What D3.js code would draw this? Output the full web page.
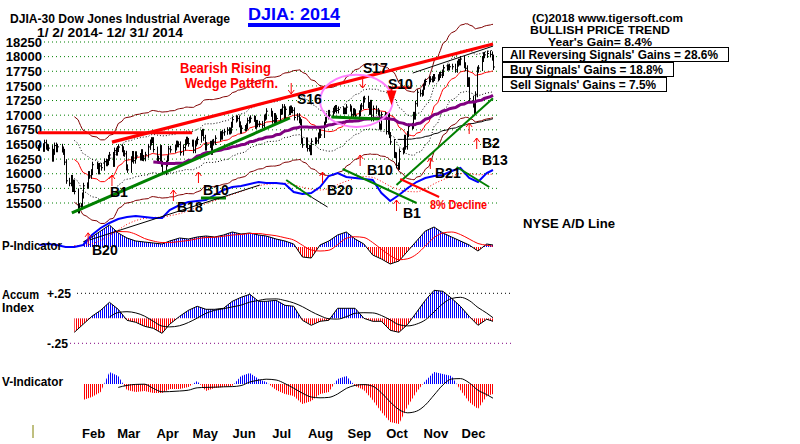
<!DOCTYPE html>
<html><head><meta charset="utf-8">
<script src="https://cdn.jsdelivr.net/npm/d3@7"></script>
<style>
body{margin:0;background:#fff}
svg{display:block}
text{font-family:"Liberation Sans",Arial,sans-serif;font-weight:bold}
</style></head>
<body><svg id="c" width="800" height="444"></svg>
<script>
// ---------------- DATA ----------------
const closeJan = [16441,16469,16425,16530,16462,16444,16437,16257,16373,16481,16418,16459,16414,16373,16198,15879,15837,15928,15739,15848,15699];
const closeFeb = [15373,15445,15440,15628,15794,15801,15994,15964,16027,16154,16130,16040,16133,16103,16208,16179,16198,16272,16321];
const closeMar = [16168,16395,16360,16422,16453,16418,16351,16340,16109,16066,16248,16337,16223,16332,16303,16276,16368,16269,16264,16323,16458];
const closeApr = [16533,16573,16573,16413,16246,16256,16438,16170,16027,16174,16263,16425,16409,16449,16514,16502,16501,16361,16449,16536,16581];
const closeMay = [16559,16513,16531,16402,16518,16551,16583,16695,16715,16613,16447,16492,16511,16374,16533,16543,16606,16676,16633,16699,16717];
const closeJun = [16743,16722,16738,16836,16924,16943,16945,16843,16734,16776,16781,16808,16906,16921,16947,16937,16818,16868,16846,16851,16827];
const closeJul = [16957,16976,17068,17024,16906,16985,16915,16944,17055,17060,17138,16977,17100,17052,17114,17087,17083,16961,16983,16913,16881,16563];
const closeAug = [16493,16569,16430,16443,16368,16554,16570,16561,16652,16713,16662,16839,16920,16980,17039,17001,17077,17107,17123,17080,17098];
const closeSep = [17068,17079,17069,17138,17112,17014,17068,17049,16988,17031,17131,17157,17266,17280,17173,17056,17210,16946,17114,17072,17043];
const closeOct = [16805,16801,17009,16992,16720,16994,16660,16544,16321,16315,16142,16117,16380,16400,16615,16462,16677,16805,16818,17006,16975,17196,17391];
const closeNov = [17367,17384,17485,17555,17574,17614,17615,17612,17652,17635,17648,17688,17686,17719,17810,17818,17815,17828,17828];
const closeDec = [17776,17880,17913,17901,17959,17853,17801,17533,17597,17281,17181,17068,17357,17778,17805,17959,18024,18030,18053,18038,17983,17823];
const holidays = ["2014-01-01","2014-01-20","2014-02-17","2014-04-18","2014-05-26","2014-07-04","2014-09-01","2014-11-27","2014-12-25"];

// weekly series (one per trading week, 53 weeks; null = not yet computed)
const adLine = [5,6,5,3,3,5,15,22,27,31,33,34,33,32,32,40,45,48,49,50,55,60,63,64,66,68,67,67,66,58,56,57,63,74,77,73,72,71,70,57,49,55,62,68,72,74,75,79,82,72,68,77,80];
const pIndicator = [null,null,null,null,null,50,100,160,220,140,90,60,50,40,30,60,90,80,100,110,100,120,150,130,140,120,110,80,60,30,-100,-110,20,60,120,150,80,30,-80,-120,-170,-140,-40,60,160,200,140,100,60,20,-40,30,20];
const accumIndex = [null,null,null,null,-0.14,-0.06,0.02,0.08,0.16,0.09,-0.02,-0.04,-0.08,-0.10,-0.15,-0.06,0.02,0.08,0.12,0.09,0.09,0.10,0.17,0.21,0.24,0.17,0.17,0.18,0.13,0.12,-0.02,-0.07,-0.03,-0.02,0.10,0.10,0.10,0.00,-0.03,-0.03,-0.12,-0.14,-0.06,0.06,0.18,0.28,0.27,0.20,0.12,0.02,-0.07,-0.01,-0.03];
const vIndicator = [null,null,null,null,null,-16,-13,-8,12,8,-6,-8,-7,-9,-9,-5,-5,-3,3,-7,-4,-3,-2,8,11,5,2,-6,-10,-12,-20,-17,-10,-8,5,8,-2,-6,-16,-28,-38,-40,-22,-8,3,12,10,8,-6,-18,-25,-12,-10];

const priceTicks = [15500,15750,16000,16250,16500,16750,17000,17250,17500,17750,18000,18250];
const monthLabels = ["Feb","Mar","Apr","May","Jun","Jul","Aug","Sep","Oct","Nov","Dec"];

// annotations (date, price)
const upArrows = [["2014-02-11",14990],["2014-03-02",15978],["2014-04-20",15722],["2014-05-10",16029],["2014-08-17",16029],["2014-09-16",16320],["2014-10-15",15551],["2014-11-11",16269],["2014-12-12",16866],["2014-12-18",16610]];
const downArrows = [["2014-07-23",17362],["2014-09-18",17464]];
const signalLabels = [["B1",110,197],["B18",177,212],["B10",203,195],["B20",327,195],["S16",297,104],["S17",363,73],["S10",388,89],["B10",367,175],["B1",403,218],["B21",435,178],["B2",482,148],["B13",482,165],["B20",92,255]];
const priceLines = [
  {pts:[["2014-03-02",16540],["2014-12-31",18215]], c:"#ff0000", w:3.2},
  {pts:[["2014-01-02",16700],["2014-05-05",16700]], c:"#ff0000", w:3.2},
  {pts:[["2014-01-29",15330],["2014-07-22",16952]], c:"#008000", w:3},
  {pts:[["2014-10-15",15807],["2014-12-31",17288]], c:"#008000", w:2},
  {pts:[["2014-08-24",16969],["2014-10-02",16935]], c:"#008000", w:3},
  {pts:[["2014-10-28",17720],["2014-12-31",18180]], c:"#000000", w:1},
  {pts:[["2014-10-18",15910],["2014-11-18",15602]], c:"#ff0000", w:2}
];
const adLines = [
  {pts:[["2014-07-19",70],["2014-08-08",53]], c:"#008000", w:2},
  {pts:[["2014-08-08",53],["2014-08-21",43]], c:"#000000", w:1},
  {pts:[["2014-09-02",81],["2014-10-31",47]], c:"#008000", w:2},
  {pts:[["2014-12-02",83],["2014-12-28",63]], c:"#008000", w:2},
  {pts:[["2014-05-12",52],["2014-06-01",52]], c:"#008000", w:3},
  {pts:[["2014-02-12",10],["2014-06-28",65]], c:"#000000", w:1}
];

// ---------------- BUILD ----------------
const svg = d3.select("#c");
const P = s => { const [a,b,c]=s.split("-").map(Number); return new Date(Date.UTC(a,b-1,c)); };
const fmt = d3.utcFormat("%Y-%m-%d");
const hol = new Set(holidays);
const months = [closeJan,closeFeb,closeMar,closeApr,closeMay,closeJun,closeJul,closeAug,closeSep,closeOct,closeNov,closeDec];
const daily = [];
months.forEach((arr,m)=>{
  const days=[];
  for(let d=1; d<=31; d++){
    const dt=new Date(Date.UTC(2014,m,d));
    if(dt.getUTCMonth()!==m) break;
    const wd=dt.getUTCDay();
    if(wd===0||wd===6||hol.has(fmt(dt))) continue;
    days.push(dt);
  }
  arr.forEach((c,i)=>daily.push({date:days[Math.min(i,days.length-1)], close:c}));
});
const weekMap = d3.rollup(daily, v=>v[v.length-1].date, d=>+d3.utcWeek.floor(d.date));
const weeks = Array.from(weekMap.values()).sort((a,b)=>a-b);

const x = d3.scaleUtc().domain([P("2014-01-02"),P("2014-12-31")]).range([38,493]);
const y = d3.scaleLinear().domain([15500,18250]).range([203,42]);
const yAD = d3.scaleLinear().domain([0,100]).range([250,150]);
const yP = d3.scaleLinear().domain([-200,200]).range([267,227]);
const yA = d3.scaleLinear().domain([-0.25,0.25]).range([343.3,293.3]);
const yV = d3.scaleLinear().domain([-45,45]).range([429,339]);

function sma(vals,n){ return vals.map((v,i)=>{ if(i<n-1) return null; const s=vals.slice(i-n+1,i+1); if(s.some(z=>z==null)) return null; return d3.mean(s); }); }

const defs = svg.append("defs");
function stripe(id,color){ const p=defs.append("pattern").attr("id",id).attr("patternUnits","userSpaceOnUse").attr("width",2).attr("height",4); p.append("rect").attr("width",1).attr("height",4).attr("fill",color); }
stripe("bs","#0000ff"); stripe("rs","#ff0000");

// grid
const grid = svg.append("g");
priceTicks.forEach(t=>{
  grid.append("line").attr("x1",44).attr("x2",500).attr("y1",y(t)).attr("y2",y(t))
    .attr("stroke","#008000").attr("stroke-dasharray","1,3");
});
svg.append("rect").attr("x",137).attr("y",63).attr("width",150).attr("height",41).attr("fill","#fff");

// y axis
const yAxis = d3.axisLeft(y).tickValues(priceTicks).tickSize(0).tickPadding(1).tickFormat(d3.format("d"));
const ya = svg.append("g").attr("transform","translate(43,0)").call(yAxis);
ya.select(".domain").remove();
ya.selectAll("text").attr("font-size",13).attr("fill","#000").attr("font-family","Liberation Sans,Arial").attr("font-weight","bold");

// x axis (month labels mid-month)
const xAxis = d3.axisBottom(x).tickValues(monthLabels.map((m,i)=>new Date(Date.UTC(2014,i+1,15)))).tickSize(0).tickFormat(d=>monthLabels[d.getUTCMonth()-1]);
const xa = svg.append("g").attr("transform","translate(0,426)").call(xAxis);
xa.select(".domain").remove();
xa.selectAll("text").attr("font-size",13).attr("fill","#000").attr("font-family","Liberation Sans,Arial").attr("font-weight","bold");
svg.append("line").attr("x1",33).attr("x2",33).attr("y1",425).attr("y2",438).attr("stroke","#808000");

// moving averages & bands
const closes = daily.map(d=>d.close);
const ma21 = sma(closes,21), ma65 = sma(closes,65), ma200 = sma(closes,200);
const lineOf = (arr,k=1)=> d3.line().defined((d,i)=>arr[i]!=null).x((d,i)=>x(daily[i].date)).y((d,i)=>y(arr[i]*k))(daily);
const bands = svg.append("g").attr("fill","none");
bands.append("path").attr("d",lineOf(ma21,1.045)).attr("stroke","#800000");
bands.append("path").attr("d",lineOf(ma21,0.955)).attr("stroke","#800000");
bands.append("path").attr("d",lineOf(ma21,1.02)).attr("stroke","#000").attr("stroke-dasharray","1,2");
bands.append("path").attr("d",lineOf(ma21,0.98)).attr("stroke","#000").attr("stroke-dasharray","1,2");
bands.append("path").attr("d",lineOf(ma21)).attr("stroke","#ff0000");
bands.append("path").attr("d",lineOf(ma200)).attr("stroke","#000");

// price bars
const bars = svg.append("g").attr("stroke","#000");
daily.forEach((d,i)=>{
  const prev = i>0 ? daily[i-1].close : d.close;
  const hi = Math.max(prev,d.close), lo = Math.min(prev,d.close);
  const xx = Math.round(x(d.date))+0.5;
  bars.append("line").attr("x1",xx).attr("x2",xx).attr("y1",y(hi)-3).attr("y2",y(lo)+3);
  bars.append("line").attr("x1",xx).attr("x2",xx+1.5).attr("y1",y(d.close)).attr("y2",y(d.close));
});
svg.append("path").attr("d",lineOf(ma65)).attr("fill","none").attr("stroke","#800080").attr("stroke-width",3);

// lower panels
function histo(vals, sc, top, bottom, outline, id){
  const pts = weeks.map((w,i)=>({date:w,v:vals[i]})).filter(d=>d.v!=null);
  const z = sc(0);
  defs.append("clipPath").attr("id","p"+id).append("rect").attr("x",0).attr("y",top).attr("width",800).attr("height",z-top);
  defs.append("clipPath").attr("id","n"+id).append("rect").attr("x",0).attr("y",z).attr("width",800).attr("height",bottom-z);
  const ar = d3.area().x(d=>x(d.date)).y0(z).y1(d=>sc(d.v));
  svg.append("path").attr("d",ar(pts)).attr("fill","url(#bs)").attr("clip-path","url(#p"+id+")");
  svg.append("path").attr("d",ar(pts)).attr("fill","url(#rs)").attr("clip-path","url(#n"+id+")");
  if(outline) svg.append("path").attr("d",d3.line().x(d=>x(d.date)).y(d=>sc(d.v))(pts)).attr("fill","none").attr("stroke","#000");
  return pts;
}
function maLine(vals, n, sc, color, dash){
  const m = sma(vals, n);
  const pts = weeks.map((w,i)=>({date:w,v:m[i]})).filter(d=>d.v!=null);
  const p = svg.append("path").attr("d",d3.line().curve(d3.curveMonotoneX).x(d=>x(d.date)).y(d=>sc(d.v))(pts)).attr("fill","none").attr("stroke",color);
  if(dash) p.attr("stroke-dasharray",dash);
}
histo(pIndicator, yP, 200, 290, true, "P");
maLine(pIndicator, 4, yP, "#ff0000");
svg.append("line").attr("x1",77).attr("x2",513).attr("y1",yA(0.25)).attr("y2",yA(0.25)).attr("stroke","#000").attr("stroke-dasharray","1,3");
svg.append("line").attr("x1",70).attr("x2",513).attr("y1",yA(-0.25)).attr("y2",yA(-0.25)).attr("stroke","#800080").attr("stroke-dasharray","1,3");
histo(accumIndex, yA, 280, 350, true, "A");
maLine(accumIndex, 5, yA, "#000");
histo(vIndicator, yV, 330, 440, false, "V");
maLine(vIndicator, 5, yV, "#000");

// AD line
const adPts = weeks.map((w,i)=>({date:w,v:adLine[i]}));
maLine(adLine, 5, yAD, "#ff0000", "1,2");
svg.append("path").attr("d",d3.line().x(d=>x(d.date)).y(d=>yAD(d.v))(adPts)).attr("fill","none").attr("stroke","#0000ff").attr("stroke-width",2);

// trend lines
const tl = d3.line();
priceLines.forEach(l=>svg.append("path").attr("d",tl(l.pts.map(p=>[x(P(p[0])),y(p[1])]))).attr("stroke",l.c).attr("stroke-width",l.w).attr("fill","none"));
adLines.forEach(l=>svg.append("path").attr("d",tl(l.pts.map(p=>[x(P(p[0])),yAD(p[1])]))).attr("stroke",l.c).attr("stroke-width",l.w).attr("fill","none"));

// pink ellipse
const ex0=x(P("2014-08-15")), ex1=x(P("2014-10-12")), ey0=y(17690), ey1=y(16800);
svg.append("ellipse").attr("cx",(ex0+ex1)/2).attr("cy",(ey0+ey1)/2).attr("rx",(ex1-ex0)/2).attr("ry",(ey1-ey0)/2)
  .attr("fill","none").attr("stroke","#ff80ff").attr("stroke-width",2);

// S10 marker
const tx0=x(P("2014-10-07")), tx1=x(P("2014-10-15")), txm=x(P("2014-10-11"));
svg.append("path").attr("d",`M${tx0},${y(17420)}L${tx1},${y(17420)}L${txm},${y(17170)}Z`).attr("fill","#ff0000");
svg.append("line").attr("x1",x(P("2014-10-09"))).attr("x2",x(P("2014-10-27"))).attr("y1",y(17470)).attr("y2",y(17470)).attr("stroke","#ff0000").attr("stroke-width",2.5);
svg.append("line").attr("x1",txm).attr("x2",txm).attr("y1",y(17470)).attr("y2",y(17250)).attr("stroke","#ff0000").attr("stroke-width",2);

// arrows
const ag = svg.append("g").attr("stroke","#ff0000").attr("fill","none");
upArrows.forEach(a=>{ const ax=x(P(a[0])), ay=y(a[1]);
  ag.append("path").attr("d",`M${ax},${ay}L${ax},${ay+11}M${ax-3},${ay+4}L${ax},${ay}L${ax+3},${ay+4}`); });
downArrows.forEach(a=>{ const ax=x(P(a[0])), ay=y(a[1]);
  ag.append("path").attr("d",`M${ax},${ay}L${ax},${ay-11}M${ax-3},${ay-4}L${ax},${ay}L${ax+3},${ay-4}`); });

// signal labels
signalLabels.forEach(s=>svg.append("text").attr("x",s[1]).attr("y",s[2]).attr("font-size",14).attr("fill","#000").text(s[0]));

// texts
function T(str,xx,yy,size,color,len){ const t=svg.append("text").attr("x",xx).attr("y",yy).attr("font-size",size).attr("fill",color||"#000").text(str); if(len) t.attr("textLength",len).attr("lengthAdjust","spacingAndGlyphs"); return t; }
T("DJIA-30  Dow Jones Industrial Average",10,23,12,"#000",220);
T("1/ 2/ 2014- 12/ 31/ 2014",37,37,12,"#000",146);
T("DJIA: 2014",248,20,17,"#0000ff",92);
svg.append("rect").attr("x",248).attr("y",23).attr("width",92).attr("height",4).attr("fill","#0000ff");
T("Bearish Rising",180,73,14,"#ff0000",91);
T("Wedge Pattern.",185,88,14,"#ff0000",93);
T("(C)2018 www.tigersoft.com",532,21.5,11,"#000",151);
T("BULLISH PRICE TREND",530,34,11,"#000",140);
T("Year's Gain= 8.4%",548,46,11,"#000",104);
const boxes=[["All Reversing Signals' Gains = 28.6%",47.5,226,59,208],["Buy Signals' Gains = 18.8%",62.5,171,74,153],["Sell Signals' Gains = 7.5%",77.5,164,89,146]];
boxes.forEach(b=>{ svg.append("rect").attr("x",502.5).attr("y",b[1]).attr("width",b[2]).attr("height",14).attr("fill","#fff").attr("stroke","#000");
  T(b[0],510,b[3],12,"#000",b[4]); });
T("8% Decline",430,209,12,"#ff0000",57);
T("NYSE A/D Line",523,228,13,"#000",92);
T("P-Indicator",2,250,13,"#000",60);
T("Accum",2,298.5,12,"#000",37);
T("Index",2,312,12,"#000",32);
T("+.25",47,298,13,"#000",24);
T("-.25",47,348,13,"#000",21);
T("V-Indicator",2,386,13,"#000",61);
</script></body></html>
